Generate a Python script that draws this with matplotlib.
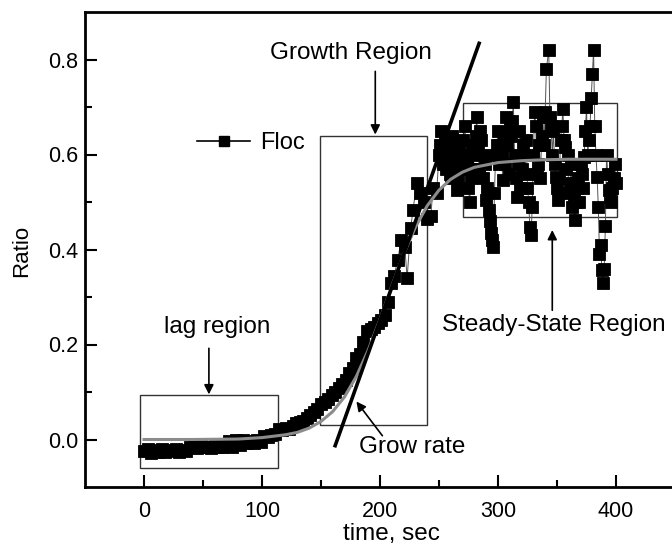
import numpy as np
import matplotlib.pyplot as plt
from matplotlib.patches import Rectangle
from matplotlib.lines import Line2D

plt.rcParams['font.family'] = ['Liberation Sans', 'DejaVu Sans']

# Floc ratio data (time in s)
time = [0, 3, 6, 9, 12, 15, 18, 21, 24, 27, 30, 33, 36, 39, 42, 45, 48, 51, 54, 57,
        60, 63, 66, 69, 72, 75, 78, 81, 84, 87, 90, 93, 96, 99, 102, 105, 108, 111,
        114, 117, 120, 123, 126, 129, 132, 135, 138, 141, 144, 147, 150, 153, 156,
        159, 162, 165, 168, 171, 174, 177, 180, 183, 186, 189, 192, 195, 198, 201,
        204, 207, 209, 212, 215, 218, 221, 223, 226, 228, 231, 234, 237, 240, 243,
        245, 248,
        250, 252, 254, 256, 258, 260, 262, 265, 268, 270, 273, 276, 279, 282, 285,
        288, 290, 292, 294, 296, 298, 300, 302, 304, 307, 310, 313, 316, 318, 320,
        322, 324, 327, 329, 331, 333, 335, 338, 341, 343, 345, 347, 349, 351, 353,
        355, 357, 359, 361, 363, 365, 367, 369, 371, 373, 375, 377, 379, 380, 381,
        382, 384, 385, 386, 387, 388, 389, 390, 392, 394, 396, 398]
ratio = [-0.025, -0.021, -0.028, -0.022, -0.026, -0.020, -0.027, -0.022, -0.025,
         -0.020, -0.026, -0.022, -0.024, -0.016, -0.015, -0.018, -0.014, -0.016,
         -0.015, -0.017, -0.013, -0.015, -0.016, -0.014, -0.004, -0.015, -0.002,
         -0.012, 0.000, -0.008, -0.004, -0.007, -0.002, -0.005, 0.008, 0.006, 0.009,
         0.012, 0.022, 0.020, 0.024, 0.022, 0.028, 0.034, 0.036, 0.040, 0.046, 0.052,
         0.058, 0.065, 0.074, 0.080, 0.086, 0.094, 0.100, 0.108, 0.117, 0.126, 0.140,
         0.150, 0.172, 0.180, 0.205, 0.228, 0.232, 0.236, 0.245, 0.252, 0.262, 0.290,
         0.330, 0.345, 0.378, 0.420, 0.405, 0.340, 0.445, 0.483, 0.540, 0.520, 0.500,
         0.465, 0.470, 0.530, 0.520,
         0.600, 0.650, 0.595, 0.570, 0.620, 0.550, 0.616, 0.525, 0.580, 0.630, 0.600,
         0.500, 0.570, 0.680, 0.650, 0.600, 0.505, 0.483, 0.435, 0.405, 0.600, 0.650,
         0.620, 0.547, 0.680, 0.660, 0.710, 0.510, 0.650, 0.570, 0.600, 0.630, 0.447,
         0.490, 0.690, 0.560, 0.620, 0.680, 0.780, 0.820, 0.660, 0.650, 0.553, 0.505,
         0.630, 0.695, 0.616, 0.600, 0.540, 0.490, 0.462, 0.530, 0.500, 0.560, 0.595,
         0.700, 0.630, 0.720, 0.770, 0.820, 0.660, 0.553, 0.490, 0.390, 0.410, 0.357,
         0.330, 0.360, 0.600, 0.525, 0.500, 0.550]

# more samples in the steady-state part
time_extra = [251, 253, 255, 257, 259, 261, 263, 264, 266, 267, 269, 271, 272, 274,
              275, 277, 278, 280, 281, 283, 284, 286, 287, 289, 291, 293, 295, 297,
              299, 301, 303, 305, 306, 308, 309, 311, 312, 314, 315, 317, 319, 321,
              323, 325, 326, 328, 330, 332, 334, 336, 337, 339, 340, 344, 346, 348,
              350, 352, 354, 356, 358, 360, 362, 364, 366, 368, 370, 372, 374, 376,
              378, 383, 391, 393, 395, 397, 399, 400]
ratio_extra = [0.62, 0.58, 0.63, 0.60, 0.56, 0.64, 0.58, 0.60, 0.55, 0.62, 0.57, 0.60,
               0.66, 0.58, 0.53, 0.55, 0.62, 0.60, 0.64, 0.62, 0.57, 0.63, 0.55, 0.58,
               0.53, 0.46, 0.42, 0.52, 0.62, 0.58, 0.60, 0.64, 0.58, 0.62, 0.56, 0.64,
               0.67, 0.60, 0.55, 0.58, 0.53, 0.62, 0.56, 0.53, 0.50, 0.43, 0.60, 0.66,
               0.58, 0.55, 0.64, 0.62, 0.69, 0.68, 0.60, 0.58, 0.53, 0.55, 0.66, 0.63,
               0.57, 0.52, 0.58, 0.51, 0.50, 0.55, 0.58, 0.53, 0.65, 0.60, 0.66, 0.60,
               0.45, 0.56, 0.51, 0.53, 0.58, 0.54]

# fitted curve
fit_time = [0, 40, 80, 100, 120, 130, 140, 150, 160, 170, 180, 190, 200, 210, 220,
            230, 240, 250, 260, 270, 280, 300, 320, 340, 360, 380, 400]
fit_ratio = [0.000, 0.000, 0.001, 0.004, 0.010, 0.015, 0.024, 0.038, 0.059, 0.090,
             0.133, 0.188, 0.253, 0.323, 0.390, 0.447, 0.492, 0.525, 0.548, 0.563,
             0.573, 0.583, 0.587, 0.589, 0.590, 0.590, 0.590]

# grow rate tangent line
tangent_time = [162, 284]
tangent_ratio = [-0.013, 0.834]

t_all = np.array(time + time_extra)
r_all = np.array(ratio + ratio_extra)
order = np.argsort(t_all, kind='stable')

fig = plt.figure(figsize=(6.72, 5.49), dpi=100)
ax = fig.add_axes([85/672, 62/549, 590/672, 475/549])

ax.plot(t_all[order], r_all[order], '-', color='#555555', lw=0.7, marker='s', ms=8.5,
        mfc='black', mec='black', mew=0.6, zorder=3)
ax.plot(fit_time, fit_ratio, color='#8c8c8c', lw=2.2, zorder=4)
ax.plot(tangent_time, tangent_ratio, color='black', lw=2.6, zorder=5)

# region boxes
for x0, y0, w, h in [(-3, -0.059, 116.5, 0.152), (149, 0.030, 91, 0.610), (270, 0.469, 131, 0.240)]:
    ax.add_patch(Rectangle((x0, y0), w, h, fill=False, ec='#333333', lw=1.0, zorder=2))

arrow = dict(arrowstyle='-|>', color='black', lw=1.2, mutation_scale=14, shrinkA=0, shrinkB=0)
ax.annotate('', xy=(196, 0.642), xytext=(196, 0.775), arrowprops=arrow)
ax.annotate('', xy=(55, 0.095), xytext=(55, 0.192), arrowprops=arrow)
ax.annotate('', xy=(346, 0.441), xytext=(346, 0.272), arrowprops=arrow)
ax.annotate('', xy=(180, 0.08), xytext=(202, 0.008), arrowprops=arrow)

ax.text(175, 0.813, 'Growth Region', ha='center', va='center', fontsize=17.5)
ax.text(62, 0.236, 'lag region', ha='center', va='center', fontsize=17.5)
ax.text(347, 0.24, 'Steady-State Region', ha='center', va='center', fontsize=17.5)
ax.text(227, -0.015, 'Grow rate', ha='center', va='center', fontsize=17.5)

proxy = Line2D([], [], color='black', lw=1.2, marker='s', ms=7.5, mfc='black', mec='black')
ax.legend([proxy], ['Floc'], loc='center left', bbox_to_anchor=((197-85)/590, 0.724),
          frameon=False, fontsize=17, handlelength=2.26, handletextpad=0.4,
          borderpad=0, borderaxespad=0)

ax.set_xlim(-50, 450)
ax.set_ylim(-0.1, 0.9)
ax.set_xticks([0, 100, 200, 300, 400])
ax.set_xticks([50, 150, 250, 350], minor=True)
ax.set_yticks([0.0, 0.2, 0.4, 0.6, 0.8])
ax.set_yticklabels(['0.0', '0.2', '0.4', '0.6', '0.8'])
ax.set_yticks([0.1, 0.3, 0.5, 0.7], minor=True)
ax.tick_params(which='both', direction='in', top=False, right=False, labelsize=15.5, width=1.5)
ax.tick_params(which='major', length=8.5)
ax.tick_params(which='minor', length=5)
ax.tick_params(axis='x', pad=10)
ax.tick_params(axis='y', pad=5)
for s in ax.spines.values():
    s.set_linewidth(2)

ax.set_xlabel('time, sec', fontsize=17.5)
ax.xaxis.set_label_coords((391-85)/590, -0.076)
ax.xaxis.label.set_va('top')
ax.set_ylabel('Ratio', fontsize=16)
ax.yaxis.set_label_coords(-0.108, 0.497)
ax.yaxis.label.set_va('center')

fig.savefig('out.png', dpi=100)
